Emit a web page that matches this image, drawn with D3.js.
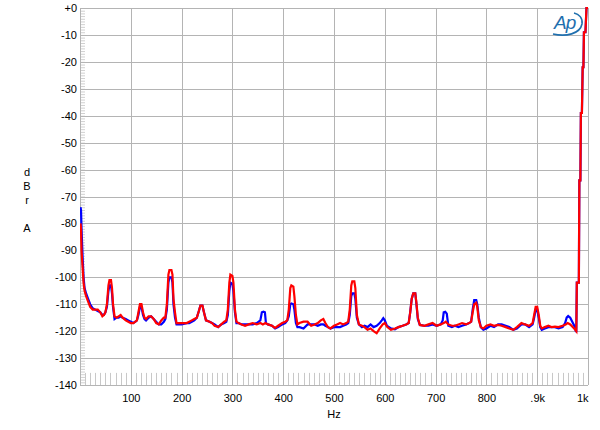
<!DOCTYPE html>
<html><head><meta charset="utf-8">
<script src="https://cdn.jsdelivr.net/npm/d3@7"></script>
<style>body{margin:0;background:#fff}svg{display:block}text{font-family:"Liberation Sans",Arial,sans-serif;fill:#000}</style>
</head><body><svg id="c" width="600" height="430"></svg>
<script>
const xTicks = [100,200,300,400,500,600,700,800,900,1000];
const xTickLabels = ["100","200","300","400","500","600","700","800",".9k","1k"];
const yTicks = [0,-10,-20,-30,-40,-50,-60,-70,-80,-90,-100,-110,-120,-130,-140];
const yTickLabels = ["+0","-10","-20","-30","-40","-50","-60","-70","-80","-90","-100","-110","-120","-130","-140"];
const tail = [[977,-120],[978,-102],[982,-102],[983,-64],[985,-64],[986,-39],[988,-39],[989.5,-22],[991,-22],[992,-9],[995,-9],[997,0],[1000,0]];
const redSeries = [[1,-80],[2,-82],[3,-90],[5,-96],[7,-102],[9,-105],[12,-107],[16,-109],[20,-111],[25,-112],[30,-112],[35,-112],[40,-113],[44,-114.5],[47,-114],[50,-113],[53,-110],[56,-103],[58,-101],[61,-101],[63,-104],[65,-110],[68,-114.5],[72,-115],[76,-114.5],[80,-114],[84,-115],[90,-116],[95,-116.5],[100,-117],[105,-117],[109,-116.5],[112,-116],[115,-113],[118,-110],[121,-110],[124,-113],[127,-115],[130,-115.5],[135,-114.5],[140,-114.5],[145,-115.5],[150,-117],[155,-117.5],[160,-116],[165,-115],[168,-115],[171,-110],[174,-99],[176,-97.3],[180,-97.3],[182,-99],[184,-108],[187,-113],[190,-117],[200,-117],[210,-117],[215,-116.5],[220,-116],[225,-115.5],[230,-115],[234,-112.5],[237,-110.5],[241,-110.5],[244,-113],[248,-116],[255,-116.5],[260,-117],[265,-118],[272,-118.5],[278,-117.5],[284,-116.5],[288,-116],[291,-112],[294,-102],[296,-99],[300,-99.5],[302,-102],[305,-112],[308,-116.5],[312,-117],[318,-117.5],[325,-118],[332,-117.5],[340,-117],[348,-117.5],[355,-117],[360,-117.5],[365,-117],[370,-117.5],[378,-118],[384,-118.8],[390,-118],[398,-117],[404,-116.5],[408,-116],[411,-112],[414,-104],[416,-103],[420,-103.5],[422,-107],[425,-114],[428,-117.5],[432,-117],[440,-116.5],[448,-116.5],[455,-118],[462,-117.5],[468,-117],[474,-116],[479,-115.5],[483,-117],[488,-118.5],[493,-119],[500,-118],[506,-117.5],[512,-117],[518,-117.5],[524,-117],[528,-116.5],[531,-112],[534,-103],[536,-101.5],[540,-101.5],[542,-104],[545,-114],[549,-117.5],[555,-118],[560,-118.5],[566,-119.5],[572,-119],[578,-120],[584,-120.8],[590,-119],[596,-117.5],[600,-117],[605,-118.5],[612,-119.5],[620,-119],[627,-118.5],[635,-118],[642,-117.5],[647,-117],[650,-113],[653,-108],[656,-106],[660,-106],[662,-109],[665,-115],[669,-117.7],[678,-118],[686,-117.5],[694,-117],[702,-118],[710,-117.5],[716,-117],[720,-116.5],[725,-117.5],[732,-118],[738,-118],[745,-117.5],[752,-117],[760,-117.5],[766,-117],[770,-116.5],[773,-113],[776,-110],[780,-109.5],[782,-111],[785,-116],[789,-118.5],[794,-119],[800,-118],[808,-117.5],[815,-118],[823,-117.7],[830,-118],[838,-118.5],[845,-119],[853,-119.5],[860,-118.5],[869,-117],[876,-117.5],[884,-118],[891,-117],[894,-114],[897,-111],[900,-111],[903,-114],[906,-118],[909,-119],[915,-118.5],[922,-118],[928,-118.5],[935,-118.3],[942,-118.5],[950,-118],[956,-117.5],[960,-117],[965,-117.5],[970,-118.5],[975,-119.5]].concat(tail);
const blueSeries = [[1,-74],[2,-75],[3,-82],[5,-92],[7,-100],[9,-104],[12,-106],[16,-108],[20,-110],[25,-111.5],[30,-112],[35,-112.5],[40,-113],[44,-114],[47,-114],[50,-113],[53,-111],[56,-105],[58,-103],[61,-103],[63,-106],[65,-111],[68,-115.5],[72,-115],[76,-115],[80,-114.5],[84,-115],[90,-115.5],[95,-116],[100,-116.5],[105,-117],[109,-116.5],[112,-116],[115,-114],[118,-111],[121,-111],[124,-114],[127,-115.5],[130,-116],[135,-115],[140,-114.5],[145,-115.5],[150,-116.5],[155,-117.5],[160,-117.5],[165,-116.5],[168,-115.5],[171,-112],[174,-102],[176,-100],[180,-100],[182,-102],[184,-110],[187,-115],[190,-117.5],[200,-117.5],[210,-117],[215,-117],[220,-116.5],[225,-116],[230,-115],[234,-112.5],[237,-110.5],[241,-110.5],[244,-113],[248,-116],[255,-116.5],[260,-117],[265,-117.5],[272,-118.5],[278,-117.5],[284,-117],[288,-116.5],[291,-114],[294,-105],[296,-102],[300,-102.5],[302,-105],[305,-113],[308,-117],[312,-117],[318,-117.5],[325,-117.5],[332,-117.5],[340,-117.5],[348,-117],[355,-116],[358,-113],[361,-112.8],[364,-113],[366,-117],[370,-117.5],[378,-118],[384,-119],[390,-118.5],[398,-117.5],[404,-117],[408,-116],[411,-114.5],[414,-110],[416,-109.7],[420,-110],[422,-112],[425,-117],[428,-118.5],[432,-118.5],[440,-119],[448,-117.5],[455,-117.5],[462,-117.5],[468,-118],[474,-117.5],[479,-117.5],[483,-118],[488,-118.5],[493,-119],[500,-118.5],[506,-118.5],[512,-118.5],[518,-118],[524,-117.5],[528,-117],[531,-114],[534,-107],[536,-106],[540,-106],[542,-108],[545,-115],[549,-117.5],[555,-118.5],[560,-118],[566,-118.5],[572,-117.5],[578,-118.5],[584,-118],[590,-117],[594,-116],[597,-115.2],[600,-116],[604,-118],[612,-119],[620,-119.3],[627,-118.5],[635,-118],[642,-117.5],[647,-117],[650,-113],[653,-108],[656,-106],[660,-106],[662,-109.5],[665,-115.5],[669,-117.7],[678,-118],[686,-118],[694,-117.5],[702,-118],[710,-117.5],[714,-116],[716,-113],[719,-112.8],[722,-113.5],[725,-118],[732,-118.5],[738,-118],[745,-118.5],[752,-118],[760,-117.5],[766,-117],[770,-116.5],[773,-112],[776,-108.5],[780,-108.5],[782,-110],[785,-115],[789,-118.5],[794,-119.5],[800,-119],[808,-118],[815,-118.5],[823,-117.5],[830,-117.5],[838,-118],[845,-118.5],[853,-119.5],[860,-119],[869,-117.5],[876,-117.5],[884,-118.5],[891,-117.5],[894,-115],[897,-112],[900,-112],[903,-115],[906,-118.5],[909,-119.5],[915,-119],[922,-118.5],[928,-118.5],[935,-118.5],[942,-119],[950,-118.5],[955,-117],[958,-115],[961,-114.4],[965,-115],[969,-116.5],[973,-118],[976,-120]].concat(tail);

const svg = d3.select("#c");
const L = 80, R = 588, T = 8, B = 385;
const x = d3.scaleLinear().domain([0,1000]).range([L,R]);
const y = d3.scaleLinear().domain([0,-140]).range([T,B]);

const minorY = d3.range(0,-141,-1);
svg.append("g").selectAll("line").data(minorY).join("line")
  .attr("x1",L).attr("x2",L+5).attr("y1",d=>y(d)+0.5).attr("y2",d=>y(d)+0.5)
  .attr("stroke","#d0d0d0").attr("stroke-width",1);
const minorX = d3.range(10,1000,10);
svg.append("g").selectAll("line").data(minorX).join("line")
  .attr("x1",d=>Math.round(x(d))+0.5).attr("x2",d=>Math.round(x(d))+0.5)
  .attr("y1",y(-135.5)).attr("y2",B)
  .attr("stroke","#c8c8c8").attr("stroke-width",1);

svg.append("g").selectAll("line").data(yTicks).join("line")
  .attr("x1",L).attr("x2",R).attr("y1",d=>Math.round(y(d))+0.5).attr("y2",d=>Math.round(y(d))+0.5)
  .attr("stroke","#b4b4b4").attr("stroke-width",1);
svg.append("g").selectAll("line").data([0].concat(xTicks)).join("line")
  .attr("x1",d=>Math.round(x(d))+0.5).attr("x2",d=>Math.round(x(d))+0.5).attr("y1",T).attr("y2",B)
  .attr("stroke","#b4b4b4").attr("stroke-width",1);

const yAxis = d3.axisLeft(y).tickValues(yTicks).tickFormat((d,i)=>yTickLabels[i]).tickSize(0).tickPadding(3);
const gy = svg.append("g").attr("transform",`translate(${L},0)`).call(yAxis);
gy.select(".domain").remove();
gy.selectAll("text").style("font-size","11px").attr("fill","#000");
const xAxis = d3.axisBottom(x).tickValues(xTicks).tickFormat((d,i)=>xTickLabels[i]).tickSize(0).tickPadding(9);
const gx = svg.append("g").attr("transform",`translate(0,${B})`).call(xAxis);
gx.select(".domain").remove();
gx.selectAll("text").style("font-size","11px").attr("fill","#000");
gx.selectAll(".tick").filter((d,i)=>i===xTicks.length-1).select("text").attr("text-anchor","end").attr("dx","0");

svg.append("text").attr("x",334).attr("y",418).attr("text-anchor","middle").style("font-size","11px").text("Hz");
[["d",176],["B",190],["r",204],["A",232]].forEach(([t,yy])=>{
  svg.append("text").attr("x",27).attr("y",yy).attr("text-anchor","middle").style("font-size","11px").text(t);
});

const line = d3.line().x(d=>x(d[0])).y(d=>y(d[1]));
svg.append("clipPath").attr("id","pc").append("rect").attr("x",L).attr("y",T-1).attr("width",R-L+1).attr("height",B-T+1);
svg.append("path").datum(blueSeries).attr("d",line).attr("fill","none").attr("stroke","#0000ff").attr("stroke-width",2.2).attr("clip-path","url(#pc)");
svg.append("path").datum(redSeries).attr("d",line).attr("fill","none").attr("stroke","#ff0000").attr("stroke-width",2.2).attr("clip-path","url(#pc)");

const logo = svg.append("g").attr("transform","translate(552,12)");
logo.append("text").attr("x",2).attr("y",17).style("font-size","19px").style("font-style","italic").style("font-family","'Liberation Sans',Arial,sans-serif").style("fill","#1f6fae").style("letter-spacing","-1px").text("Ap");
logo.append("path").attr("d","M1,22 C14,25 28,22 30,12 C31,6 27,2 22,1").attr("fill","none").attr("stroke","#1f6fae").attr("stroke-width",1.6);
</script></body></html>
